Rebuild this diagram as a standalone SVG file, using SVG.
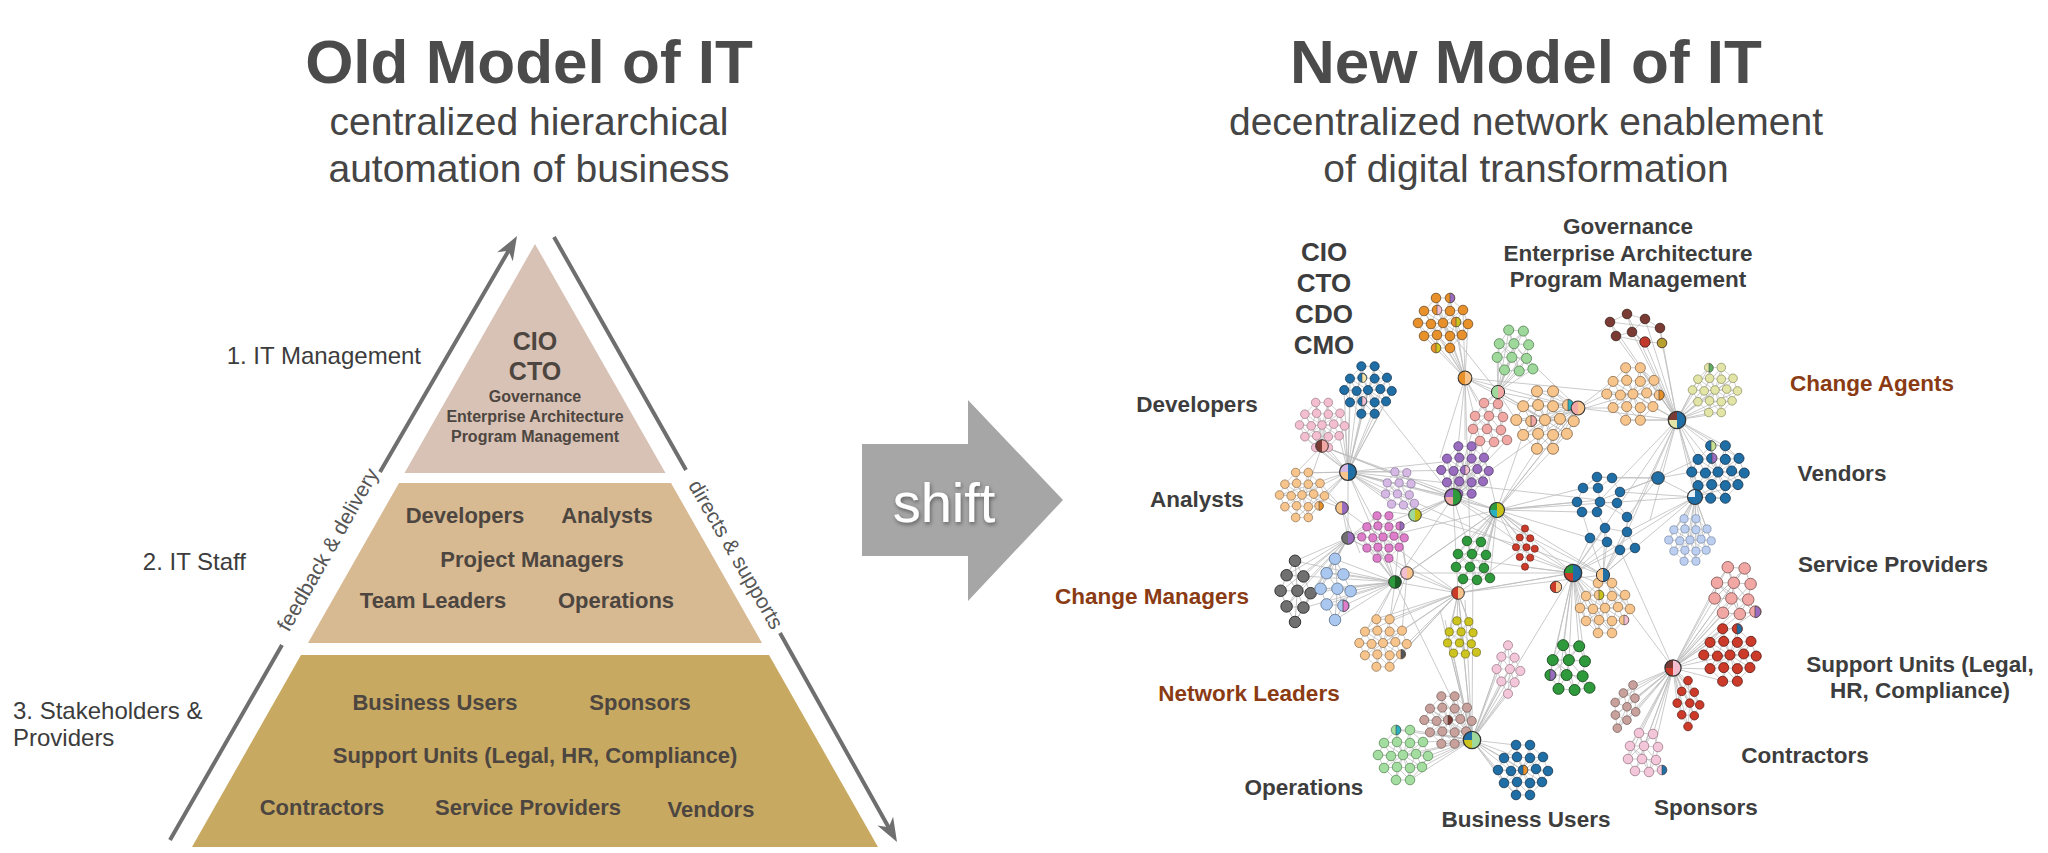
<svg xmlns="http://www.w3.org/2000/svg" width="2048" height="853" viewBox="0 0 2048 853">
<style>
text{font-family:"Liberation Sans",Arial,Helvetica,sans-serif}
.ttl{font-size:62px;font-weight:bold;fill:#4b4b4b;text-anchor:middle}
.sub{font-size:39px;fill:#454545;text-anchor:middle}
.lv{font-size:24px;fill:#3c3c3c}
.pb{font-size:22px;font-weight:bold;fill:#4d4640;text-anchor:middle}
.ps{font-size:16px;font-weight:bold;fill:#4d4640;text-anchor:middle}
.pc{font-size:25px;font-weight:bold;fill:#4d4640;text-anchor:middle}
.ax{fill:none;stroke:#6f6f6f;stroke-width:4}
.ah{fill:#6f6f6f}
.at{font-size:21px;fill:#555;text-anchor:middle}
.nl{font-size:22.5px;font-weight:bold;fill:#3d3d3d;text-anchor:middle}
.nc{font-size:26px;font-weight:bold;fill:#3d3d3d;text-anchor:middle}
.br{fill:#8a3b14}
.e{fill:none;stroke:#bdbdbd;stroke-width:.8}
.cl{stroke-width:.8}
</style>
<defs>
<filter id="ds" x="-20%" y="-20%" width="140%" height="140%"><feDropShadow dx="1" dy="2" stdDeviation="2" flood-color="#000" flood-opacity=".45"/></filter>
<g id="tA">
<path fill="none" stroke="#b8b8b8" stroke-width=".7" d="M-7-25L7-25M-19-12L-6-13L7-12L20-13M-25 0L-12 1L0 0L13-1L25 1M-19 13L-6 12L7 13L19 12M-7 25L7 25M-7-25L-19-12M-7-25L-6-13M7-25L7-12M7-25L20-13M-19-12L-25 0M-19-12L-12 1M-6-13L-12 1M-6-13L0 0M7-12L0 0M7-12L13-1M20-13L13-1M20-13L25 1M-25 0L-19 13M-12 1L-19 13M-12 1L-6 12M0 0L-6 12M0 0L7 13M13-1L7 13M13-1L19 12M25 1L19 12M-19 13L-7 25M-6 12L-7 25M-6 12L7 25M7 13L7 25M19 12L7 25M-19-12L19 12M-19 13L20-13M-7-25L7 25M7-25L-7 25M-25 0L25 1"/>
<circle cx="-7" cy="-25" r="4.8"/><circle cx="7" cy="-25" r="4.8"/><circle cx="-19" cy="-12" r="4.8"/><circle cx="-6" cy="-13" r="4.8"/><circle cx="7" cy="-12" r="4.8"/><circle cx="20" cy="-13" r="4.8"/><circle cx="-25" cy="0" r="4.8"/><circle cx="-12" cy="1" r="4.8"/><circle cx="0" cy="0" r="4.8"/><circle cx="13" cy="-1" r="4.8"/><circle cx="25" cy="1" r="4.8"/><circle cx="-19" cy="13" r="4.8"/><circle cx="-6" cy="12" r="4.8"/><circle cx="7" cy="13" r="4.8"/><circle cx="19" cy="12" r="4.8"/><circle cx="-7" cy="25" r="4.8"/><circle cx="7" cy="25" r="4.8"/>
</g>
<g id="tB">
<path fill="none" stroke="#b8b8b8" stroke-width=".7" d="M-6-19L8-18M-15-6L-1-6L13-5M-17 7L-3 7L11 8M-10 19L4 20L17 18M-6-19L-15-6M-6-19L-1-6M8-18L-1-6M8-18L13-5M-15-6L-17 7M-15-6L-3 7M-1-6L-3 7M-1-6L11 8M13-5L11 8M-17 7L-10 19M-3 7L-10 19M-3 7L4 20M11 8L4 20M11 8L17 18M-6-19L4 20M8-18L-17 7M-15-6L17 18"/>
<circle cx="-6" cy="-19" r="4.8"/><circle cx="8" cy="-18" r="4.8"/><circle cx="-15" cy="-6" r="4.8"/><circle cx="-1" cy="-6" r="4.8"/><circle cx="13" cy="-5" r="4.8"/><circle cx="-17" cy="7" r="4.8"/><circle cx="-3" cy="7" r="4.8"/><circle cx="11" cy="8" r="4.8"/><circle cx="-10" cy="19" r="4.8"/><circle cx="4" cy="20" r="4.8"/><circle cx="17" cy="18" r="4.8"/>
</g>
<g id="tC">
<path fill="none" stroke="#b8b8b8" stroke-width=".7" d="M0-26L-7-14L7-13ZM-7-14L-12-1L2-1L13 1L7-13M-7-14L2-1M-12-1L-7 12L2-1L7 13L13 1M-7 12L7 13M-7 12L0 25L7 13M0-26L2-1L0 25"/>
<circle cx="0" cy="-26" r="4.8"/><circle cx="-7" cy="-14" r="4.8"/><circle cx="7" cy="-13" r="4.8"/><circle cx="-12" cy="-1" r="4.8"/><circle cx="2" cy="-1" r="4.8"/><circle cx="13" cy="1" r="4.8"/><circle cx="-7" cy="12" r="4.8"/><circle cx="7" cy="13" r="4.8"/><circle cx="0" cy="25" r="4.8"/>
</g>
<path id="nh" d="M0-4.8A4.8 4.8 0 0 1 0 4.8Z" stroke="#444" stroke-width=".6"/>
<path id="hh" d="M0-6A6 6 0 0 1 0 6Z"/>
<path id="hq" d="M0 0H-6A6 6 0 0 1 0-6Z"/>
<circle id="hr" r="6" fill="none" stroke="#333" stroke-width=".9"/>
</defs>

<rect width="2048" height="853" fill="#ffffff"/>

<g id="title-old">
<text class="ttl" x="529" y="83">Old Model of IT</text>
<text class="sub" x="529" y="135">centralized hierarchical</text>
<text class="sub" x="529" y="182">automation of business</text>
</g>
<g id="title-new">
<text class="ttl" x="1526" y="83">New Model of IT</text>
<text class="sub" x="1526" y="135">decentralized network enablement</text>
<text class="sub" x="1526" y="182">of digital transformation</text>
</g>

<g id="tier1">
<polygon points="535,244 665.5,473 404.5,473" fill="#d8c1b5"/>
<text class="pc" x="535" y="350">CIO</text>
<text class="pc" x="535" y="380">CTO</text>
<text class="ps" x="535" y="402">Governance</text>
<text class="ps" x="535" y="422">Enterprise Architecture</text>
<text class="ps" x="535" y="442">Program Management</text>
</g>
<g id="tier2">
<polygon points="399,483 671,483 762,643 308,643" fill="#d7b992"/>
<text class="pb" x="465" y="523">Developers</text>
<text class="pb" x="607" y="523">Analysts</text>
<text class="pb" x="532" y="567">Project Managers</text>
<text class="pb" x="433" y="608">Team Leaders</text>
<text class="pb" x="616" y="608">Operations</text>
</g>
<g id="tier3">
<polygon points="301,655 769,655 878,847 192,847" fill="#c8a962"/>
<text class="pb" x="435" y="710">Business Users</text>
<text class="pb" x="640" y="710">Sponsors</text>
<text class="pb" x="535" y="763">Support Units (Legal, HR, Compliance)</text>
<text class="pb" x="322" y="815">Contractors</text>
<text class="pb" x="528" y="815">Service Providers</text>
<text class="pb" x="711" y="817">Vendors</text>
</g>
<g id="level-labels">
<text class="lv" x="421" y="364" text-anchor="end">1. IT Management</text>
<text class="lv" x="246" y="570" text-anchor="end">2. IT Staff</text>
<text class="lv" x="13" y="719">3. Stakeholders &amp;</text>
<text class="lv" x="13" y="746">Providers</text>
</g>

<g id="pyramid-arrows">
<path class="ax" d="M170 840L282 645M380 472L509 250"/>
<polygon class="ah" points="517,236 512.8,261.3 508.5,250.7 497.2,252.3"/>
<path class="ax" d="M554 237L686 470M780 633L889 828"/>
<polygon class="ah" points="897,842 893.1,816.7 888.7,827.2 877.4,825.5"/>
<text class="at" transform="translate(334,553) rotate(-60.5)" x="0" y="0">feedback &amp; delivery</text>
<text class="at" transform="translate(735,555) rotate(60)" x="0" y="6">directs &amp; supports</text>
</g>

<g id="shift-arrow">
<polygon points="862,444 968,444 968,400 1063,500 968,601 968,556 862,556" fill="#a6a6a6"/>
<text x="944" y="522" font-size="56" fill="#ffffff" text-anchor="middle" filter="url(#ds)">shift</text>
</g>

<g id="connectors">
<path class="e" d="M1465 378L1436 298M1465 378L1450 298M1465 378L1424 311M1465 378L1463 310M1465 378L1418 323M1465 378L1443 323M1465 378L1468 324M1465 378L1424 336M1465 378L1437 335M1465 378L1450 348M1465 378L1456 322M1465 378L1477 402M1465 378L1488 416M1465 378L1465 440M1465 378L1453 497M1465 378L1470 540M1465 378L1497 510M1465 378L1440 458M1465 378L1498 392M1465 378L1578 408"/>
<path class="e" d="M1348 472L1361 366M1348 472L1375 366M1348 472L1350 379M1348 472L1387 378M1348 472L1344 390M1348 472L1392 391M1348 472L1350 402M1348 472L1386 401M1348 472L1361 414M1348 472L1375 414M1348 472L1368 390M1348 472L1300 425M1348 472L1305 437M1348 472L1339 436M1348 472L1328 448M1348 472L1316 448M1348 472L1345 426M1348 472L1340 413M1348 472L1296 473M1348 472L1308 473M1348 472L1280 495M1348 472L1325 496M1348 472L1296 518M1348 472L1308 518M1348 472L1302 495M1348 472L1395 472M1348 472L1387 483M1348 472L1386 494M1348 472L1392 504M1348 472L1453 497M1348 472L1497 510M1348 472L1443 462M1348 472L1465 470M1348 472L1415 515M1348 472L1383 537M1348 472L1348 538M1348 472L1395 582M1348 472L1573 573"/>
<path class="e" d="M1322 446L1311 426M1322 446L1322 425M1322 446L1333 424M1322 446L1305 414M1322 446L1316 403M1322 446L1328 403M1322 446L1296 473M1322 446L1305 495M1322 446L1453 497"/>
<path class="e" d="M1677 420L1610 322M1677 420L1627 314M1677 420L1645 319M1677 420L1660 328M1677 420L1616 336M1677 420L1632 332M1677 420L1645 342M1677 420L1662 343M1677 420L1654 380M1677 420L1659 395M1677 420L1653 407M1677 420L1640 420M1677 420L1640 368M1677 420L1633 394M1677 420L1626 420M1677 420L1709 368M1677 420L1721 368M1677 420L1698 379M1677 420L1733 378M1677 420L1693 390M1677 420L1738 391M1677 420L1698 402M1677 420L1732 400M1677 420L1709 413M1677 420L1721 413M1677 420L1715 390M1677 420L1711 446M1677 420L1725 446M1677 420L1698 459M1677 420L1692 472M1677 420L1718 472M1677 420L1739 458M1677 420L1698 486M1677 420L1658 478M1677 420L1627 532M1677 420L1650 520M1677 420L1695 497M1677 420L1600 500M1677 420L1603 575"/>
<path class="e" d="M1578 408L1537 391M1578 408L1553 391M1578 408L1523 406M1578 408L1568 405M1578 408L1516 420M1578 408L1545 420M1578 408L1574 421M1578 408L1523 435M1578 408L1567 434M1578 408L1537 449M1578 408L1553 449M1578 408L1607 394M1578 408L1613 381M1578 408L1613 408M1578 408L1677 420M1578 408L1497 510M1578 408L1498 392"/>
<path class="e" d="M1498 392L1509 330M1498 392L1523 331M1498 392L1499 344M1498 392L1514 344M1498 392L1529 345M1498 392L1497 357M1498 392L1512 357M1498 392L1527 358M1498 392L1505 370M1498 392L1519 371M1498 392L1533 369M1498 392L1484 403M1498 392L1498 404M1498 392L1475 416M1498 392L1503 417M1498 392L1487 429M1498 392L1501 430M1498 392L1516 420M1498 392L1523 406M1498 392L1545 420"/>
<path class="e" d="M1453 497L1458 446M1453 497L1472 446M1453 497L1447 459M1453 497L1459 458M1453 497L1472 459M1453 497L1484 458M1453 497L1441 470M1453 497L1454 471M1453 497L1465 470M1453 497L1477 469M1453 497L1489 471M1453 497L1447 482M1453 497L1459 481M1453 497L1472 482M1453 497L1483 481M1453 497L1458 494M1453 497L1472 494M1453 497L1480 441M1453 497L1494 442M1453 497L1473 429M1453 497L1507 440M1453 497L1497 510M1453 497L1415 515M1453 497L1458 593M1453 497L1473 560M1453 497L1525 547M1453 497L1383 537"/>
<path class="e" d="M1497 510L1467 541M1497 510L1481 542M1497 510L1458 554M1497 510L1472 554M1497 510L1486 555M1497 510L1456 567M1497 510L1470 567M1497 510L1484 568M1497 510L1463 579M1497 510L1477 580M1497 510L1490 578M1497 510L1525 529M1497 510L1520 538M1497 510L1516 547M1497 510L1526 547M1497 510L1530 538M1497 510L1583 488M1497 510L1577 502M1497 510L1582 512M1497 510L1590 538M1497 510L1523 435M1497 510L1537 449M1497 510L1553 449M1497 510L1573 573M1497 510L1603 575M1497 510L1695 497"/>
<path class="e" d="M1458 593L1376 619M1458 593L1390 619M1458 593L1402 631M1458 593L1407 644M1458 593L1401 654M1458 593L1390 667M1458 593L1383 643M1458 593L1365 632M1458 593L1457 621M1458 593L1469 622M1458 593L1449 632M1458 593L1473 633M1458 593L1448 643M1458 593L1465 654M1458 593L1395 582M1458 593L1348 538M1458 593L1473 560M1458 593L1525 547M1458 593L1573 573M1458 593L1407 573"/>
<path class="e" d="M1395 582L1303 576M1395 582L1311 593M1395 582L1303 608M1395 582L1295 561M1395 582L1335 559M1395 582L1327 573M1395 582L1343 574M1395 582L1321 589M1395 582L1337 589M1395 582L1351 591M1395 582L1327 604M1395 582L1343 606M1395 582L1335 620M1395 582L1377 516M1395 582L1367 527M1395 582L1400 526M1395 582L1362 537M1395 582L1367 548M1395 582L1377 558M1395 582L1376 619M1395 582L1390 619M1395 582L1365 632M1395 582L1453 497"/>
<path class="e" d="M1348 538L1295 561M1348 538L1287 575M1348 538L1303 576M1348 538L1281 591M1348 538L1297 591M1348 538L1311 593M1348 538L1287 606M1348 538L1303 608M1348 538L1295 622M1348 538L1362 537M1348 538L1367 527M1348 538L1367 548M1348 538L1377 516M1348 538L1335 559M1348 538L1327 573M1348 538L1321 589"/>
<path class="e" d="M1573 573L1598 583M1573 573L1586 596M1573 573L1580 608M1573 573L1586 621M1573 573L1598 633M1573 573L1605 608M1573 573L1612 633M1573 573L1599 595M1573 573L1593 609M1573 573L1563 645M1573 573L1579 646M1573 573L1553 660M1573 573L1569 660M1573 573L1550 675M1573 573L1558 689M1573 573L1585 661M1573 573L1535 549M1573 573L1530 558M1573 573L1525 567M1573 573L1590 538M1573 573L1607 542M1573 573L1620 550M1573 573L1605 528M1573 573L1458 593M1573 573L1695 497M1573 573L1472 740"/>
<path class="e" d="M1603 575L1605 528M1603 575L1627 532M1603 575L1607 542M1603 575L1620 550M1603 575L1635 548M1603 575L1590 538M1603 575L1612 583M1603 575L1625 595M1603 575L1618 607M1603 575L1630 609"/>
<path class="e" d="M1695 497L1711 498M1695 497L1725 498M1695 497L1698 486M1695 497L1692 472M1695 497L1738 485M1695 497L1744 473M1695 497L1684 519M1695 497L1696 519M1695 497L1674 530M1695 497L1707 529M1695 497L1669 540M1695 497L1690 540M1695 497L1711 541M1695 497L1674 551M1695 497L1706 550M1695 497L1684 561M1695 497L1696 561M1695 497L1658 478M1695 497L1627 532M1695 497L1620 492"/>
<path class="e" d="M1673 668L1728 567M1673 668L1745 568M1673 668L1717 583M1673 668L1734 583M1673 668L1751 584M1673 668L1715 598M1673 668L1731 598M1673 668L1748 600M1673 668L1723 613M1673 668L1740 614M1673 668L1755 612M1673 668L1710 642M1673 668L1704 655M1673 668L1710 669M1673 668L1723 681M1673 668L1723 629M1673 668L1730 655M1673 668L1688 681M1673 668L1682 691M1673 668L1694 692M1673 668L1677 703M1673 668L1690 703M1673 668L1700 705M1673 668L1682 715M1673 668L1694 716M1673 668L1688 726M1673 668L1633 685M1673 668L1623 693M1673 668L1635 698M1673 668L1615 702M1673 668L1627 707M1673 668L1636 712M1673 668L1615 715M1673 668L1627 720M1673 668L1617 728M1673 668L1639 733M1673 668L1653 734M1673 668L1630 746M1673 668L1628 759M1673 668L1635 771M1673 668L1649 772M1673 668L1644 746M1673 668L1603 575M1673 668L1620 550"/>
<path class="e" d="M1472 740L1441 696M1472 740L1455 696M1472 740L1430 709M1472 740L1467 708M1472 740L1424 720M1472 740L1448 720M1472 740L1472 721M1472 740L1430 732M1472 740L1466 731M1472 740L1441 744M1472 740L1455 744M1472 740L1396 730M1472 740L1410 730M1472 740L1423 742M1472 740L1428 756M1472 740L1422 767M1472 740L1410 780M1472 740L1403 755M1472 740L1416 754M1472 740L1410 768M1472 740L1516 745M1472 740L1504 758M1472 740L1498 770M1472 740L1504 783M1472 740L1516 795M1472 740L1511 771M1472 740L1523 770M1472 740L1517 757M1472 740L1508 645M1472 740L1501 657M1472 740L1515 658M1472 740L1497 669M1472 740L1510 669M1472 740L1520 671M1472 740L1501 681M1472 740L1515 682M1472 740L1508 694M1472 740L1462 637M1472 740L1458 593M1472 740L1465 600M1472 740L1473 560M1472 740L1453 653M1472 740L1448 643M1472 740L1440 610M1472 740L1445 620M1472 740L1395 582"/>
<path class="e" d="M1658 478L1612 478M1658 478L1620 492M1658 478L1627 517M1658 478L1692 472M1658 478L1698 459M1658 478L1597 477"/>
<path class="e" d="M1415 515L1395 472M1415 515L1387 483M1415 515L1403 503M1415 515L1417 503M1415 515L1390 512M1415 515L1453 497M1342 508L1320 483M1342 508L1313 498M1342 508L1325 496M1342 508L1348 538M1342 508L1360 553M1407 573L1400 526M1407 573L1403 552M1407 573L1390 560M1407 573L1402 631M1407 573L1390 619"/>
<path class="e" d="M1348 472L1453 497M1453 497L1578 408M1497 510L1578 408M1453 497L1603 575M1465 378L1545 420M1322 446L1453 497M1395 582L1497 510M1407 573L1573 573M1458 593L1603 575M1573 573L1677 420M1603 575L1695 497M1545 420L1633 394M1600 500L1658 478M1497 510L1600 500M1342 508L1458 593M1348 538L1453 497M1383 537L1497 510M1415 515L1525 547M1473 560L1573 573M1525 547L1603 575M1348 472L1600 500M1322 446L1497 510M1368 390L1453 497M1443 323L1498 392M1518 350L1578 408M1465 378L1633 394M1407 573L1497 510"/>
</g>

<g id="network-clusters">
<use id="c01" class="cl" href="#tA" transform="translate(1443,323)" fill="#e8902a" stroke="#6d4b26"/>
<use id="c02" class="cl" href="#tB" transform="translate(1515,350) scale(1.05)" fill="#9ed89a" stroke="#5b845a"/>
<use id="c03" class="cl" href="#tA" transform="translate(1368,390) scale(.95)" fill="#1f6ea6" stroke="#17354f"/>
<use id="c04" class="cl" href="#tA" transform="translate(1322,425) scale(.9)" fill="#f3bfd0" stroke="#9a7a86"/>
<use id="c05" class="cl" href="#tB" transform="translate(1490,422)" fill="#f1a7a4" stroke="#8c6361"/>
<use id="c06" class="cl" href="#tA" transform="translate(1465,470) scale(.95)" fill="#9a6cc0" stroke="#4c3864"/>
<use id="c07" class="cl" href="#tA" transform="translate(1545,420) scale(1.15)" fill="#f7c48c" stroke="#8d7153"/>
<use id="c08" class="cl" href="#tA" transform="translate(1633,394) scale(1.05)" fill="#f7c48c" stroke="#8d7153"/>
<g id="c09" fill="#7a3b34" stroke="#3a1f1c" stroke-width=".8">
<path fill="none" stroke="#b8b8b8" stroke-width=".7" d="M1610 322L1627 314L1645 319L1660 328L1662 343L1645 342L1632 332L1616 336L1610 322M1627 314L1632 332L1645 319M1632 332L1645 342M1616 336L1645 342M1610 322L1660 328"/>
<circle cx="1610" cy="322" r="4.8"/><circle cx="1627" cy="314" r="4.8"/><circle cx="1645" cy="319" r="4.8"/><circle cx="1660" cy="328" r="4.8"/><circle cx="1616" cy="336" r="4.8"/><circle cx="1632" cy="332" r="4.8"/><circle cx="1645" cy="342" r="5.2" fill="#c0392b"/><circle cx="1662" cy="343" r="4.8" fill="#b5a030"/>
</g>
<use id="c10" class="cl" href="#tA" transform="translate(1715,390) scale(.9)" fill="#e2e5a5" stroke="#8a8c60"/>
<use id="c11" class="cl" href="#tA" transform="translate(1718,472) scale(1.05)" fill="#1f6ea6" stroke="#17354f"/>
<g id="c12" fill="#1f6ea6" stroke="#17354f" stroke-width=".8">
<path fill="none" stroke="#b8b8b8" stroke-width=".7" d="M1597 477L1612 478L1620 492L1617 503L1627 517L1627 532L1635 548L1620 550L1607 542L1590 538L1582 512L1577 502L1583 488L1597 477M1598 488L1600 502L1597 512L1605 528L1607 542M1583 488L1598 488L1612 478M1600 502L1617 503M1582 512L1597 512M1605 528L1627 532M1620 550L1627 532M1600 502L1627 517"/>
<circle cx="1597" cy="477" r="4.8"/><circle cx="1612" cy="478" r="4.8"/><circle cx="1583" cy="488" r="4.8"/><circle cx="1598" cy="488" r="4.8"/><circle cx="1620" cy="492" r="4.8"/><circle cx="1577" cy="502" r="4.8"/><circle cx="1600" cy="502" r="4.8"/><circle cx="1617" cy="503" r="4.8"/><circle cx="1582" cy="512" r="4.8"/><circle cx="1597" cy="512" r="4.8"/><circle cx="1627" cy="517" r="4.8"/><circle cx="1605" cy="528" r="4.8"/><circle cx="1627" cy="532" r="4.8"/><circle cx="1590" cy="538" r="4.8"/><circle cx="1607" cy="542" r="4.8"/><circle cx="1620" cy="550" r="4.8"/><circle cx="1635" cy="548" r="4.8"/>
</g>
<use id="c13" class="cl" href="#tA" transform="translate(1690,540) scale(.85)" fill="#bccff0" stroke="#7586a3"/>
<use id="c14" class="cl" href="#tA" transform="translate(1605,608)" fill="#f7c48c" stroke="#8d7153"/>
<use id="c15" class="cl" href="#tA" transform="translate(1730,655) scale(1.05)" fill="#cc3a2a" stroke="#5c1c15"/>
<use id="c16" class="cl" href="#tC" transform="translate(1688,704) scale(.9)" fill="#cc3a2a" stroke="#5c1c15"/>
<use id="c17" class="cl" href="#tB" transform="translate(1735,590) scale(1.2)" fill="#f1a7a4" stroke="#8c6361"/>
<use id="c18" class="cl" href="#tC" transform="translate(1625,707) rotate(20) scale(.9)" fill="#c9a19c" stroke="#74605c"/>
<use id="c19" class="cl" href="#tB" transform="translate(1645,752)" fill="#f3c6da" stroke="#9a7a86"/>
<use id="c20" class="cl" href="#tB" transform="translate(1570,667) scale(1.15)" fill="#2f9a3b" stroke="#1a4d20"/>
<use id="c21" class="cl" href="#tC" transform="translate(1508,670) scale(.95)" fill="#f3c6da" stroke="#9a7a86"/>
<use id="c22" class="cl" href="#tB" transform="translate(1462,637) scale(.85)" fill="#cdc41f" stroke="#6a6512"/>
<use id="c23" class="cl" href="#tA" transform="translate(1448,720) scale(.95)" fill="#c9a19c" stroke="#74605c"/>
<use id="c24" class="cl" href="#tA" transform="translate(1403,755)" fill="#a3dd9f" stroke="#5d8a5a"/>
<use id="c25" class="cl" href="#tA" transform="translate(1523,770)" fill="#1f6ea6" stroke="#17354f"/>
<use id="c26" class="cl" href="#tA" transform="translate(1302,495) scale(.9)" fill="#f7c48c" stroke="#8d7153"/>
<use id="c27" class="cl" href="#tB" transform="translate(1400,488) scale(.85)" fill="#d5b9e4" stroke="#84729a"/>
<use id="c28" class="cl" href="#tA" transform="translate(1383,537) scale(.85)" fill="#de7dca" stroke="#7a4270"/>
<use id="c29" class="cl" href="#tC" transform="translate(1295,592) scale(1.2)" fill="#707070" stroke="#2e2e2e"/>
<use id="c30" class="cl" href="#tC" transform="translate(1335,590) scale(1.2)" fill="#aac8ef" stroke="#6c809b"/>
<use id="c31" class="cl" href="#tB" transform="translate(1473,560)" fill="#2f9a3b" stroke="#1a4d20"/>
<use id="c32" class="cl" href="#tA" transform="translate(1383,643) scale(.95)" fill="#f7c48c" stroke="#8d7153"/>
<use id="c33" class="cl" href="#tC" transform="translate(1525,548) scale(.75)" fill="#cc3a2a" stroke="#5c1c15"/>
</g>

<g id="multi-colour-nodes">
<use href="#nh" transform="translate(1450,298)" fill="#9a6cc0"/>
<use href="#nh" transform="translate(1456,322)" fill="#c9c21c"/>
<use href="#nh" transform="translate(1436,348)" fill="#cdc41f"/>
<use href="#nh" transform="translate(1437,310)" fill="#f3bfd0"/>
<use href="#nh" transform="translate(1362,378) scale(.95)" fill="#f4e6a8"/>
<use href="#nh" transform="translate(1362,401) scale(.95)" fill="#f3bfd0"/>
<use href="#nh" transform="translate(1568,405) scale(1.15)" fill="#2ab0c0"/>
<use href="#nh" transform="translate(1531,421) scale(1.15)" fill="#f1a7a4"/>
<use href="#nh" transform="translate(1659,395) scale(1.05)" fill="#e8902a"/>
<use href="#nh" transform="translate(1709,368) scale(.9)" fill="#5fae5f"/>
<use href="#nh" transform="translate(1711,446) scale(1.05)" fill="#c8e090"/>
<use href="#nh" transform="translate(1712,458) scale(1.05)" fill="#9a6cc0"/>
<use href="#nh" transform="translate(1599,595)" fill="#c9c21c"/>
<use href="#nh" transform="translate(1624,620)" fill="#f3bfd0"/>
<use href="#nh" transform="translate(1737,629) scale(1.05)" fill="#1f6ea6"/>
<use href="#nh" transform="translate(1755,612) scale(1.2)" fill="#9a6cc0"/>
<use href="#nh" transform="translate(1550,675) scale(1.15)" fill="#9a6cc0"/>
<use href="#nh" transform="translate(1396,730)" fill="#2ab0c0"/>
<use href="#nh" transform="translate(1523,770)" fill="#e8902a"/>
<use href="#nh" transform="translate(1448,720) scale(.95)" fill="#7a3b34"/>
<use href="#nh" transform="translate(1319,506) scale(.9)" fill="#e8902a"/>
<use href="#nh" transform="translate(1400,526) scale(.85)" fill="#9a6cc0"/>
<use href="#nh" transform="translate(1343,606) scale(1.2)" fill="#de7dca"/>
<use href="#nh" transform="translate(1401,654) scale(.95)" fill="#555555"/>
<use href="#nh" transform="translate(1662,770)" fill="#1f6ea6"/>
<use href="#nh" transform="translate(1465,470) scale(.95)" fill="#f3bfd0"/>
</g>

<g id="hubs">
<g id="hub-a" transform="translate(1465,378) scale(1.15)"><circle r="6" fill="#e8902a"/><use href="#hh" fill="#f7c48c"/><use href="#hr"/></g>
<g id="hub-b" transform="translate(1348,472) scale(1.4)"><circle r="6" fill="#f7c48c"/><use href="#hh" fill="#1f6ea6"/><use href="#hq" fill="#d5b9e4"/><use href="#hr"/></g>
<g id="hub-c" transform="translate(1322,446) scale(1.05)"><circle r="6" fill="#7a3b34"/><use href="#hh" fill="#f1a7a4"/><use href="#hr"/></g>
<g id="hub-d" transform="translate(1677,420) scale(1.45)"><circle r="6" fill="#e2e5a5"/><use href="#hh" fill="#1f6ea6"/><use href="#hq" fill="#7a3b34"/><use href="#hr"/></g>
<g id="hub-e" transform="translate(1673,668) scale(1.35)"><circle r="6" fill="#cc3a2a"/><use href="#hh" fill="#f3bfd0"/><use href="#hq" fill="#7a3b34"/><use href="#hr"/></g>
<g id="hub-f" transform="translate(1472,740) scale(1.45)"><circle r="6" fill="#cdc41f"/><use href="#hh" fill="#9ed89a"/><use href="#hq" fill="#1f6ea6"/><use href="#hr"/></g>
<g id="hub-g" transform="translate(1458,593) scale(1.05)"><circle r="6" fill="#cc3a2a"/><use href="#hh" fill="#f7c48c"/><use href="#hr"/></g>
<g id="hub-h" transform="translate(1395,582) scale(1.05)"><circle r="6" fill="#2f9a3b"/><use href="#hh" fill="#1c5f25"/><use href="#hr"/></g>
<g id="hub-i" transform="translate(1573,573) scale(1.45)"><circle r="6" fill="#cc3a2a"/><use href="#hh" fill="#1f6ea6"/><use href="#hq" fill="#2f9a3b"/><use href="#hr"/></g>
<g id="hub-j" transform="translate(1603,575) scale(1.1)"><circle r="6" fill="#f7c48c"/><use href="#hh" fill="#1f6ea6"/><use href="#hr"/></g>
<g id="hub-k" transform="translate(1695,497) scale(1.25)"><circle r="6" fill="#1f6ea6"/><use href="#hq" fill="#e8f0f8"/><use href="#hr"/></g>
<g id="hub-l" transform="translate(1578,408) scale(1.15)"><circle r="6" fill="#f1a7a4"/><use href="#hh" fill="#f7c48c"/><use href="#hr"/></g>
<g id="hub-m" transform="translate(1453,497) scale(1.4)"><circle r="6" fill="#f1a7a4"/><use href="#hh" fill="#2f9a3b"/><use href="#hq" fill="#9a6cc0"/><use href="#hr"/></g>
<g id="hub-n" transform="translate(1497,510) scale(1.25)"><circle r="6" fill="#2ab0c0"/><use href="#hh" fill="#c9c21c"/><use href="#hq" fill="#2f9a3b"/><use href="#hr"/></g>
<g id="hub-o" transform="translate(1415,515) scale(1.05)"><circle r="6" fill="#9ed89a"/><use href="#hh" fill="#c9c21c"/><use href="#hr"/></g>
<g id="hub-p" transform="translate(1348,538) scale(1.05)"><circle r="6" fill="#707070"/><use href="#hh" fill="#9a6cc0"/><use href="#hr"/></g>
<g id="hub-q" transform="translate(1658,478) scale(1.05)"><circle r="6" fill="#1f6ea6"/><use href="#hr"/></g>
<g id="hub-r" transform="translate(1342,508) scale(1.05)"><circle r="6" fill="#f7c48c"/><use href="#hh" fill="#9a6cc0"/><use href="#hr"/></g>
<g id="hub-s" transform="translate(1407,573) scale(1.05)"><circle r="6" fill="#f3bfd0"/><use href="#hh" fill="#f7c48c"/><use href="#hr"/></g>
<g id="hub-t" transform="translate(1498,392) scale(1.1)"><circle r="6" fill="#9ed89a"/><use href="#hh" fill="#f1a7a4"/><use href="#hr"/></g>
<g id="hub-u" transform="translate(1556,587) scale(.95)"><circle r="6" fill="#cc3a2a"/><use href="#hh" fill="#f7c48c"/><use href="#hr"/></g>
</g>

<g id="network-labels">
<text class="nl" x="1628" y="234">Governance</text>
<text class="nl" x="1628" y="261">Enterprise Architecture</text>
<text class="nl" x="1628" y="287">Program Management</text>
<text class="nc" x="1324" y="261">CIO</text>
<text class="nc" x="1324" y="292">CTO</text>
<text class="nc" x="1324" y="323">CDO</text>
<text class="nc" x="1324" y="354">CMO</text>
<text class="nl" x="1197" y="412">Developers</text>
<text class="nl" x="1197" y="507">Analysts</text>
<text class="nl br" x="1872" y="391">Change Agents</text>
<text class="nl" x="1842" y="481">Vendors</text>
<text class="nl" x="1893" y="572">Service Providers</text>
<text class="nl br" x="1152" y="604">Change Managers</text>
<text class="nl br" x="1249" y="701">Network Leaders</text>
<text class="nl" x="1920" y="672">Support Units (Legal,</text>
<text class="nl" x="1920" y="698">HR, Compliance)</text>
<text class="nl" x="1805" y="763">Contractors</text>
<text class="nl" x="1304" y="795">Operations</text>
<text class="nl" x="1526" y="827">Business Users</text>
<text class="nl" x="1706" y="815">Sponsors</text>
</g>
</svg>
